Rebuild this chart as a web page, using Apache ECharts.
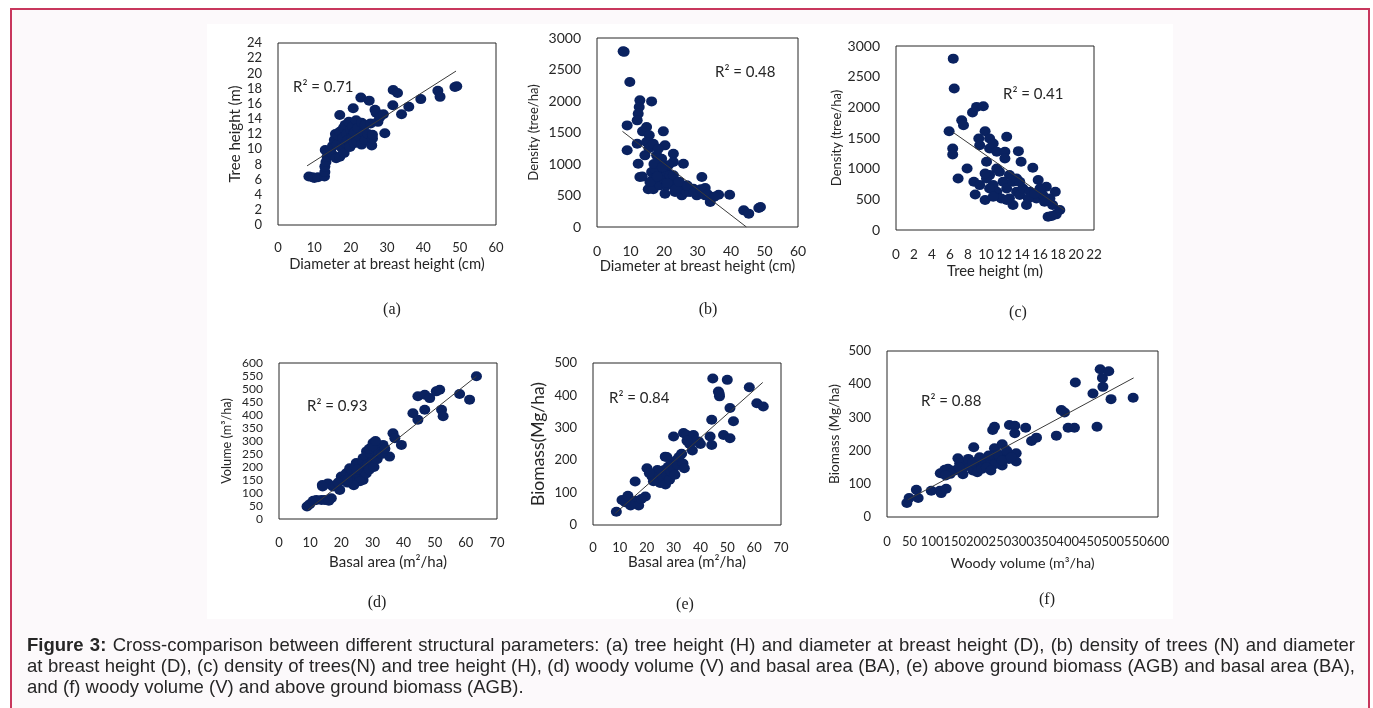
<!DOCTYPE html>
<html>
<head>
<meta charset="utf-8">
<script src="https://cdn.jsdelivr.net/npm/echarts@6/dist/echarts.min.js"></script>
<style>
  html, body { margin: 0; padding: 0; background: #fff; overflow: hidden; }
  #frame { position: absolute; left: 10px; top: 8px; width: 1360px; height: 720px; border: 2px solid #c8375d; background: #fcf9fb; box-sizing: border-box; }
  #panel { position: absolute; left: 207px; top: 24px; width: 966px; height: 595px; background: #fff; }
  #chart { position: absolute; left: 0; top: 0; width: 1373px; height: 708px; }
  #caption { position: absolute; left: 27px; top: 634px; width: 1330px; font: 18.5px "Liberation Sans", Arial, sans-serif; line-height: 21px; color: #262626; }
  #caption div { white-space: nowrap; }
</style>
</head>
<body>
<div id="frame"></div>
<div id="panel"></div>
<div id="chart"></div>
<div id="caption">
  <div><span class="fit"><b>Figure 3:</b> Cross-comparison between different structural parameters: (a) tree height (H) and diameter at breast height (D), (b) density of trees (N) and diameter</span></div>
  <div><span class="fit">at breast height (D), (c) density of trees(N) and tree height (H), (d) woody volume (V) and basal area (BA), (e) above ground biomass (AGB) and basal area (BA),</span></div>
  <div><span>and (f) woody volume (V) and above ground biomass (AGB).</span></div>
</div>
<script>
// (a) tree height vs DBH
const ptsA = [[8.5,6.4],[9.5,6.3],[10,6.2],[11,6.3],[12.8,6.4],[12.9,7.0],[12.9,7.7],[13,9.9],[13.2,8.3],[13.5,9.0],
  [14,9.6],[14.5,9.9],[15,10.4],[15.2,9.2],[15.5,11.2],[15.8,12.0],[16,8.8],[16.2,10.6],[16.5,11.8],[17,9.0],
  [17,12.3],[17,14.5],[17.5,10.2],[17.8,11.5],[18,12.8],[18.2,9.5],[18.5,13.2],[18.8,10.8],[19,12.0],[19.2,11.2],
  [19.5,13.6],[19.8,10.3],[20,12.6],[20.3,11.5],[20.5,13.0],[20.7,15.4],[21,10.8],[21,12.2],[21.5,13.8],[21.8,11.0],
  [22,12.8],[22.5,11.6],[22.8,16.8],[23,13.5],[23,10.6],[23.5,12.2],[24,11.2],[24,13.2],[24.8,12.0],[25.1,16.4],
  [25.5,13.4],[25.8,10.5],[26,11.4],[26,11.9],[26.7,15.2],[27,14.8],[27.5,13.6],[28,14.2],[29,14.6],[29.4,12.1],
  [31.6,15.8],[31.7,17.8],[32.9,17.4],[34,14.6],[36,15.6],[39.3,16.6],[44,17.7],[44.6,16.9],[48.7,18.2],[49.2,18.3]];
const trendA = [[8,7.8],[49,20.3]];

// (b) density vs DBH
const ptsB = [[7.8,2788],[8.1,2780],[9.8,2301],[9.0,1613],[9.0,1217],[12.8,2010],[12.6,1904],[12.3,1799],[12.0,1693],[16.3,1994],
  [19.8,1518],[12.0,1322],[12.3,1005],[12.8,793],[13.5,800],[15.3,598],[16.8,598],[13.6,1518],[14.8,1587],[15.6,1455],
  [14.3,1137],[14.8,1350],[15.5,1250],[16.8,1322],[17.8,1137],[18.8,873],[20.3,1296],[22.8,1164],[22.8,1031],[25.8,1005],
  [20.3,529],[25.3,502],[29.8,502],[31.3,793],[32.3,619],[33.8,397],[36.3,513],[39.6,513],[43.8,264],[45.3,212],
  [48.3,302],[48.8,317],[16.3,873],[17.3,926],[17.8,714],[18.8,661],[19.8,767],[20.8,873],[21.8,714],[22.8,661],
  [23.8,661],[24.8,608],[25.8,608],[26.8,555],[27.8,555],[21.8,820],[20.8,661],[18.8,1031],[19.3,1084],[18.3,1243],
  [21.3,979],[16.8,767],[15.8,714],[22.8,820],[24.3,714],[26.8,661],[28.8,608],[30.8,555],[32.3,502],[23.3,555],
  [17,1000],[18,800],[19.5,950],[21,700],[23.5,600],[24.5,720],[27,650],[29,560],[31,600],[33,520],[35,480]];
const trendB = [[7.6,1518],[44.6,0]];

// (c) density vs tree height
const ptsC = [[6.36,2794],[6.47,2306],[5.9,1611],[6.3,1329],[6.3,1231],[6.9,841],[7.3,1790],[7.5,1709],[7.9,1004],[8.65,787],
  [8.8,580],[8.5,1915],[8.95,2007],[9.7,2018],[9.9,488],[9.2,1492],[9.9,1611],[10.4,1492],[10.8,1410],[10.4,1329],
  [9.3,1383],[11.2,1275],[12.3,1519],[12.1,1275],[12.1,1166],[13.6,1286],[13.9,1112],[15.2,1014],[14.5,407],[15.8,814],
  [16.7,705],[17.7,624],[18.2,326],[17.8,255],[16.9,217],[17.3,230],[10.06,1112],[10.4,895],[10.8,732],[11.2,624],
  [11.9,787],[12.3,678],[12.6,515],[13.0,787],[13.4,624],[13.75,570],[14.1,678],[14.9,624],[15.6,515],[16.3,570],
  [17.1,515],[10.06,841],[10.4,678],[11.2,1004],[11.5,949],[11.7,515],[12.6,895],[13.0,407],[13.4,841],[9.9,922],
  [9.3,732],[10.8,543],[12.3,488],[13.75,787],[14.7,515],[15.4,597],[16.0,678],[17.4,407],[16.5,461]];
const trendC = [[6.36,1590],[18.7,326]];

// (d) volume vs basal area
const ptsD = [[9,48],[9.85,57],[12,73],[13.6,73],[13.9,131],[15.7,137],[14.7,73],[16.8,80],[17.3,125],[19.5,112],
  [20,163],[21.6,176],[22.7,195],[24.8,215],[27,234],[28.1,260],[30.2,292],[30,272],[31.3,266],[33.4,285],
  [35.5,240],[36.6,330],[37.2,311],[39.3,285],[43,407],[44.6,382],[44.6,472],[46.8,478],[48.4,465],[46.8,420],
  [50.5,491],[51.6,497],[52.2,420],[52.7,395],[58,481],[61.2,459],[63.4,549],[21,150],[22,140],[23,170],
  [23.5,185],[24,160],[24.5,200],[25,175],[25.5,210],[26,160],[26.5,190],[27,150],[27,220],[27.5,200],
  [28,175],[28,240],[28.5,210],[29,190],[29.5,250],[30,220],[30.5,200],[31,240],[31.5,230],[32,255],
  [33,250],[34,270],[26,145],[24,130],[22,150],[25,190],[29,270],[30,280],[31,300],[14,125],[16,70],[11,70],[19,140]];
const trendD = [[9.3,35],[63.4,549]];

// (e) biomass vs basal area
const ptsE = [[8.7,41],[10.8,77],[12.6,82],[15.1,72],[15.7,134],[19.5,88],[20.1,175],[26.9,211],[30,273],[33.7,284],
  [34.9,278],[37.4,278],[39.3,258],[43.6,273],[44.2,247],[44.2,325],[44.6,452],[46.7,412],[47.1,397],[50,448],
  [48.6,278],[51,268],[51,361],[52.3,320],[58.2,425],[61,376],[63.4,366],[23,140],[24,150],[25,130],
  [25,165],[26,145],[26.5,170],[27,125],[27.5,155],[28,180],[28.5,140],[29,165],[29.5,190],[30,175],
  [30.5,155],[31,200],[31.5,185],[32,210],[33,220],[33.5,190],[34,175],[24,170],[22,150],[22.5,135],
  [36,250],[37,230],[38,260],[40,250],[35,260],[16,75],[17,60],[14,60],[12,70],[13,90],[18,80],[21,160],[27.5,210],[47,405]];
const trendE = [[8.3,36],[63.2,440]];

// (f) biomass vs woody volume
const ptsF = [[44,42],[49,57],[65,82],[69,57],[98,79],[117,79],[120,72],[131,85],[118,132],[128,142],
  [135,145],[157,177],[161,162],[168,129],[192,210],[199,167],[212,152],[234,262],[238,272],[238,207],
  [255,219],[255,155],[271,277],[283,275],[283,252],[286,192],[286,167],[307,269],[320,229],[331,239],
  [375,245],[386,322],[393,315],[401,269],[415,269],[417,405],[456,372],[465,272],[472,445],[478,392],
  [477,419],[491,439],[496,355],[545,359],[170,150],[180,160],[190,140],[200,155],[210,170],[220,165],
  [230,175],[240,160],[250,180],[260,185],[270,175],[180,175],[190,165],[200,135],[210,145],[220,150],
  [230,140],[245,190],[255,170],[265,200],[275,180],[150,140],[160,150],[140,130],[130,125],[205,180],[225,185]];
const trendF = [[46,52],[546,419]];

const r2Labels = ['R² = 0.71', 'R² = 0.48', 'R² = 0.41', 'R² = 0.93', 'R² = 0.84', 'R² = 0.88'];
const tags = ['(a)', '(b)', '(c)', '(d)', '(e)', '(f)'];
const xNames = ['Diameter at breast height (cm)', 'Diameter at breast height (cm)', 'Tree height (m)',
  'Basal area (m²/ha)', 'Basal area (m²/ha)', 'Woody volume (m³/ha)'];
const yNames = ['Tree height (m)', 'Density (tree/ha)', 'Density (tree/ha)', 'Volume (m³/ha)', 'Biomass(Mg/ha)', 'Biomass (Mg/ha)'];
// [min, max, interval]
const xScales = [[0, 60, 10], [0, 60, 10], [0, 22, 2], [0, 70, 10], [0, 70, 10], [0, 600, 50]];
const yScales = [[0, 24, 2], [0, 3000, 500], [0, 3000, 500], [0, 600, 50], [0, 500, 100], [0, 500, 100]];

const points = [ptsA, ptsB, ptsC, ptsD, ptsE, ptsF];
const trends = [trendA, trendB, trendC, trendD, trendE, trendF];

// layout per panel
const layout = [
  { grid: { left: 278, top: 43, width: 218, height: 182 }, xGap: 32, yGap: 33, xm: 16, ym: 16, xFs: 13, yFs: 13, xnFs: 14.8, ynFs: 15, r2: [293, 87], tag: [392, 310] },
  { grid: { left: 597, top: 38, width: 201, height: 189 }, xGap: 32, yGap: 57, xm: 17, ym: 16, xFs: 14, yFs: 14, xnFs: 14.8, ynFs: 13, r2: [715, 72], tag: [708, 310] },
  { grid: { left: 896, top: 46, width: 198, height: 184 }, xGap: 34, yGap: 51, xm: 18, ym: 16, xFs: 13.5, yFs: 14, xnFs: 14.8, ynFs: 13, r2: [1003, 94], tag: [1018, 313] },
  { grid: { left: 279, top: 363, width: 218, height: 156 }, xGap: 36, yGap: 46, xm: 17, ym: 16, xFs: 13, yFs: 12, xnFs: 15, ynFs: 12.7, r2: [307, 406], tag: [377, 603] },
  { grid: { left: 593, top: 363, width: 188, height: 162 }, xGap: 30, yGap: 46, xm: 16, ym: 16, xFs: 13, yFs: 13, xnFs: 15, ynFs: 17.5, r2: [609, 398], tag: [685, 605] },
  { grid: { left: 887, top: 351, width: 271, height: 166 }, xGap: 39, yGap: 45, xm: 18, ym: 16, xFs: 13, yFs: 13, xnFs: 14.3, ynFs: 13.6, r2: [921, 401], tag: [1047, 600] },
];

const FONT = 'Lato, "Open Sans", sans-serif';
const DOT = '#0a2260';
const TXT = '#262626';

const grid = [], xAxis = [], yAxis = [], series = [], graphic = [];

layout.forEach((l, i) => {
  grid.push({ ...l.grid, show: true, borderColor: '#262626', borderWidth: 1, backgroundColor: 'transparent' });
  xAxis.push({
    type: 'value', gridIndex: i,
    min: xScales[i][0], max: xScales[i][1], interval: xScales[i][2],
    name: xNames[i], nameLocation: 'middle', nameGap: l.xGap,
    nameTextStyle: { fontFamily: FONT, fontSize: l.xnFs, color: TXT },
    axisLine: { show: false }, axisTick: { show: false }, splitLine: { show: false },
    axisLabel: { fontFamily: FONT, fontSize: l.xFs, color: TXT, margin: l.xm, hideOverlap: false, formatter: v => String(v) },
  });
  yAxis.push({
    type: 'value', gridIndex: i,
    min: yScales[i][0], max: yScales[i][1], interval: yScales[i][2],
    name: yNames[i], nameLocation: 'middle', nameGap: l.yGap,
    nameTextStyle: { fontFamily: FONT, fontSize: l.ynFs, color: TXT },
    axisLine: { show: false }, axisTick: { show: false }, splitLine: { show: false },
    axisLabel: { fontFamily: FONT, fontSize: l.yFs, color: TXT, margin: l.ym, hideOverlap: false, formatter: v => String(v) },
  });
  series.push({
    type: 'scatter', xAxisIndex: i, yAxisIndex: i,
    data: points[i], symbol: 'circle', symbolSize: [11, 10],
    itemStyle: { color: DOT, opacity: 1 },
    silent: true, z: 2,
  });
  series.push({
    type: 'line', xAxisIndex: i, yAxisIndex: i,
    data: trends[i], symbol: 'none',
    lineStyle: { color: '#3a3a3a', width: 1 },
    silent: true, z: 3,
  });
  graphic.push({
    type: 'text', x: l.r2[0], y: l.r2[1], z: 10,
    style: { text: r2Labels[i], fill: TXT, font: `15px ${FONT}`, align: 'left', verticalAlign: 'middle' },
  });
  graphic.push({
    type: 'text', x: l.tag[0], y: l.tag[1], z: 10,
    style: { text: tags[i], fill: '#222', font: '16px "Liberation Serif", "Times New Roman", serif', align: 'center', verticalAlign: 'middle' },
  });
});

const chart = echarts.init(document.getElementById('chart'));
chart.setOption({
  backgroundColor: 'transparent',
  animation: false,
  grid, xAxis, yAxis, series, graphic,
});
window.addEventListener('resize', () => chart.resize());

// stretch or squeeze the first two caption lines to the full width, like a justified paragraph
const captionWidth = 1328;
document.querySelectorAll('#caption span.fit').forEach(s => {
  const natural = s.getBoundingClientRect().width;
  const gaps = (s.textContent.match(/ /g) || []).length;
  s.style.wordSpacing = ((captionWidth - natural) / gaps) + 'px';
});
</script>
</body>
</html>
